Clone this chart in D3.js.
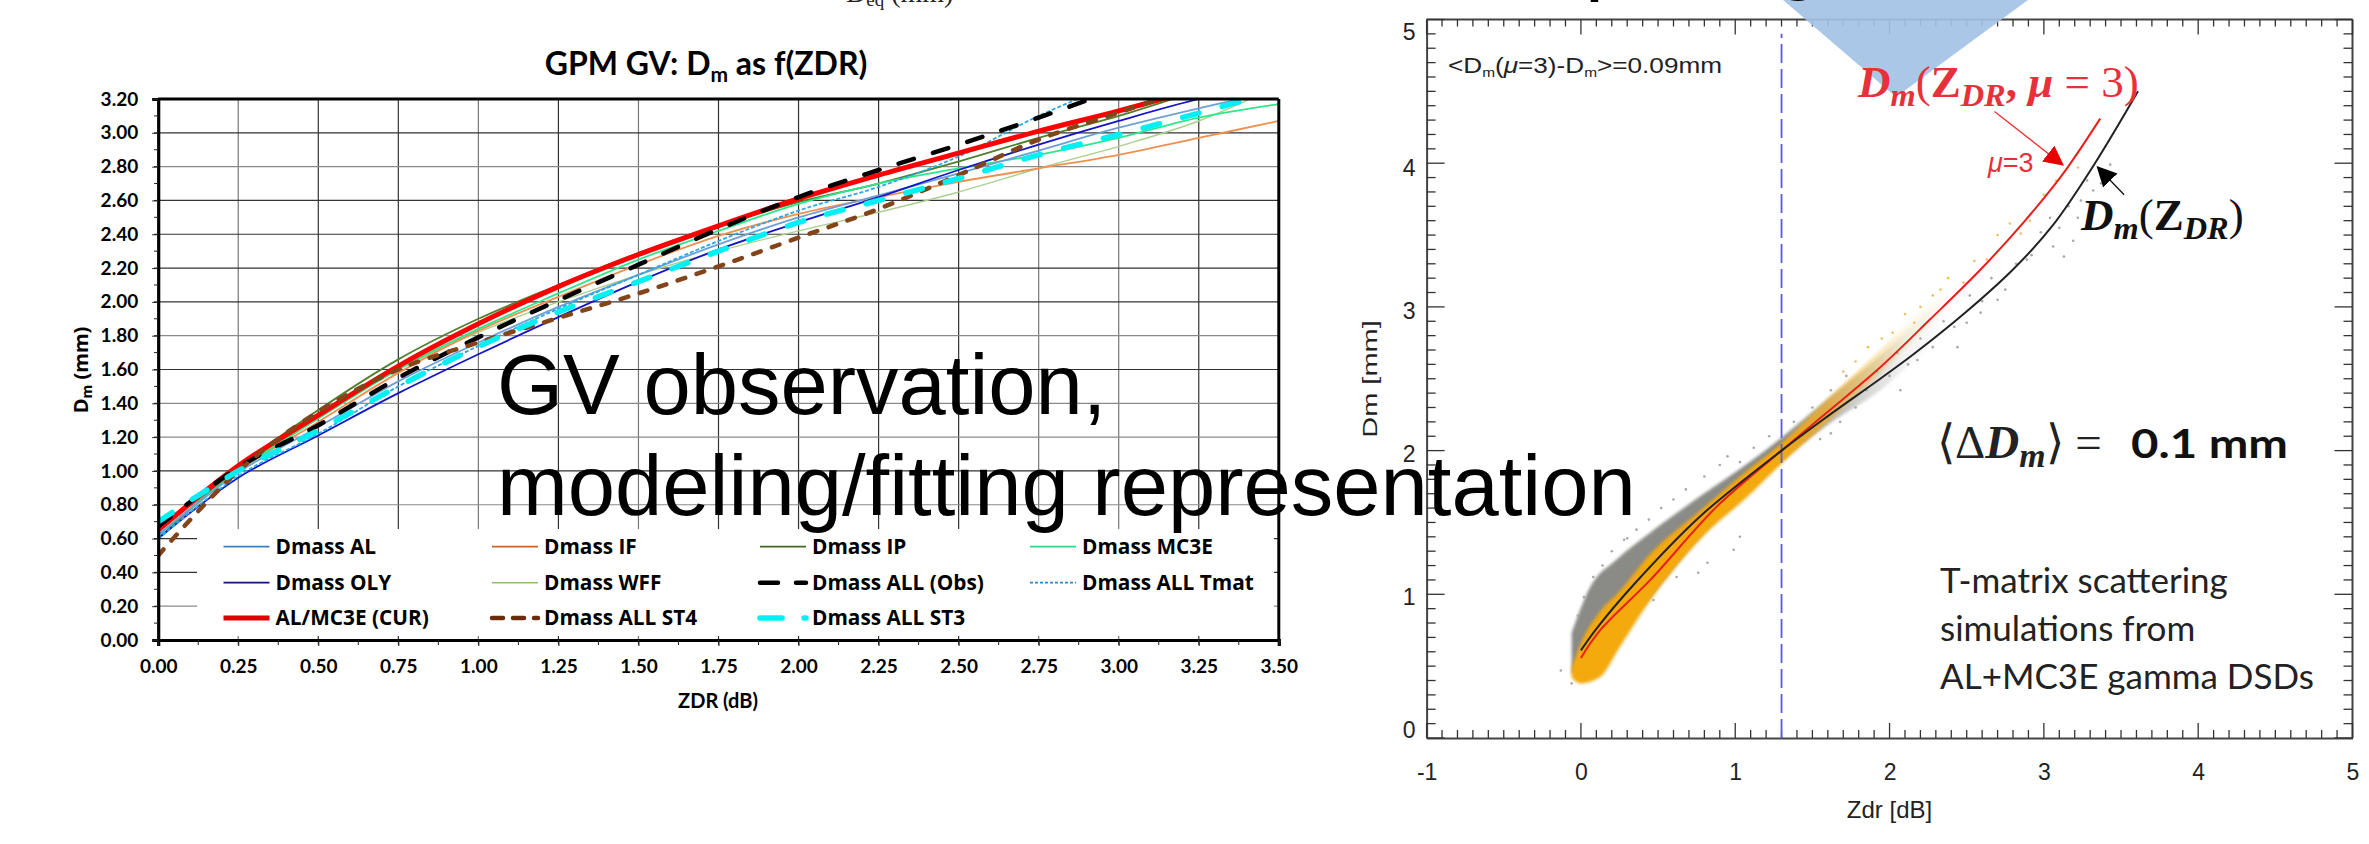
<!DOCTYPE html>
<html>
<head>
<meta charset="utf-8">
<script src="https://cdn.jsdelivr.net/npm/d3@7"></script>
<style>
html, body { margin: 0; padding: 0; background: #fff; }
svg { display: block; }
.cal { font-family: Lato, "Open Sans", sans-serif; }
.wide { font-family: "Open Sans", "Noto Sans", sans-serif; }
.arial { font-family: "Liberation Sans", Arial, sans-serif; }
.math { font-family: "Liberation Serif", serif; }
</style>
</head>
<body>
<svg id="chart" width="2369" height="844"></svg>
<script>
// left chart: grid stations along ZDR
const zdr = [0, 0.25, 0.5, 0.75, 1, 1.25, 1.5, 1.75, 2, 2.25, 2.5, 2.75, 3, 3.25, 3.5];
const xTicks = [0, 0.25, 0.5, 0.75, 1, 1.25, 1.5, 1.75, 2, 2.25, 2.5, 2.75, 3, 3.25, 3.5];
const yTicks = [0, 0.2, 0.4, 0.6, 0.8, 1, 1.2, 1.4, 1.6, 1.8, 2, 2.2, 2.4, 2.6, 2.8, 3, 3.2];
const xGridGray = [0.25, 1, 1.5, 2.75, 3];
const yGridGray = [0.2, 0.8, 1.2, 1.4, 1.8, 2.8];

// values, null past the top of the plot
const dmAL   = [0.62, 0.99, 1.26, 1.53, 1.76, 1.97, 2.16, 2.34, 2.50, 2.63, 2.76, 2.895, 3.03, 3.145, 3.25];
const dmIF   = [0.62, 1.00, 1.29, 1.58, 1.83, 2.03, 2.22, 2.39, 2.52, 2.62, 2.71, 2.79, 2.87, 2.97, 3.07];
const dmIP   = [0.60, 1.02, 1.36, 1.66, 1.90, 2.10, 2.29, 2.45, 2.59, 2.70, 2.83, 2.97, 3.10, 3.25, null];
const dmMC3E = [0.62, 1.00, 1.31, 1.60, 1.84, 2.05, 2.25, 2.42, 2.58, 2.70, 2.79, 2.87, 2.97, 3.09, 3.17];
const dmOLY  = [0.60, 0.96, 1.21, 1.46, 1.69, 1.91, 2.12, 2.31, 2.47, 2.62, 2.78, 2.93, 3.07, 3.20, 3.30];
const dmWFF  = [0.60, 1.00, 1.32, 1.60, 1.82, 2.00, 2.16, 2.30, 2.42, 2.53, 2.65, 2.79, 2.92, 3.07, 3.28];
const dmObs  = [0.67, 1.02, 1.27, 1.55, 1.79, 2.01, 2.22, 2.43, 2.62, 2.78, 2.93, 3.09, 3.26, null, null];
const dmTmat = [0.60, 0.97, 1.22, 1.50, 1.74, 1.96, 2.16, 2.36, 2.54, 2.68, 2.86, 3.10, 3.30, null, null];
const dmCUR  = [0.65, 1.03, 1.33, 1.62, 1.87, 2.09, 2.28, 2.45, 2.61, 2.75, 2.88, 3.01, 3.13, 3.26, null];
const dmST4  = [0.50, 1.00, 1.35, 1.60, 1.76, 1.905, 2.05, 2.21, 2.38, 2.55, 2.75, 2.96, 3.12, 3.28, null];
const dmST3  = [0.70, 1.00, 1.24, 1.50, 1.735, 1.94, 2.12, 2.30, 2.47, 2.60, 2.73, 2.87, 2.99, 3.117, 3.25];

const seriesNames = ["Dmass AL", "Dmass IF", "Dmass IP", "Dmass MC3E",
                     "Dmass OLY", "Dmass WFF", "Dmass ALL (Obs)", "Dmass ALL Tmat",
                     "AL/MC3E (CUR)", "Dmass ALL ST4", "Dmass ALL ST3"];
const seriesValues = [dmAL, dmIF, dmIP, dmMC3E, dmOLY, dmWFF, dmObs, dmTmat, dmCUR, dmST4, dmST3];
const seriesColors = ["#6f9fd6", "#f0904f", "#4f7f2f", "#2be88a", "#1515c8", "#a9d18e",
                      "#000000", "#2aa8e8", "#ff0000", "#84441a", "#00f0f4"];
const seriesWidths = [1.8, 1.8, 1.8, 1.8, 1.8, 1.4, 4.5, 1.8, 5, 4.5, 5.5];
const seriesDash   = [null, null, null, null, null, null, "16 20", "4 2", null, "8 12", "17 24"];
const drawOrder    = [5, 1, 2, 3, 0, 4, 7, 8, 6, 9, 10];

// legend swatches have their own colours and dashes
const legendColors = ["#3f7fbf", "#c8662a", "#3f6b22", "#2bd888", "#10107e", "#8fc070", "#000000", "#2e85c6", "#e00000", "#6b2c0c", "#00f0f4"];
const legendDash   = [null, null, null, null, null, null, "18 18", "3 2", null, "11 10", "22 22"];

// right chart curves
const zdrFit = [0, 0.1, 0.34, 0.77, 1.3, 1.6, 1.94, 2.155, 2.48, 2.8, 3.06, 3.32, 3.61];
const dmFit  = [0.61, 0.76, 1.065, 1.54, 2.00, 2.24, 2.50, 2.67, 2.95, 3.26, 3.57, 3.98, 4.50];
const zdrMu3 = [0, 0.125, 0.45, 0.88, 1.3, 1.6, 1.94, 2.26, 2.59, 2.87, 3.12, 3.365];
const dmMu3  = [0.557, 0.75, 1.10, 1.61, 2.00, 2.27, 2.58, 2.91, 3.26, 3.59, 3.92, 4.31];

// cloud outlines, read as upper and lower edge of the dense scatter
const grayX       = [-0.06, 0.06, 0.23, 0.45, 0.77, 1.08, 1.3, 1.6, 1.94, 2.26, 2.59];
const grayUpper   = [0.73, 1.05, 1.24, 1.43, 1.68, 1.91, 2.09, 2.36, 2.66, 2.98, 3.30];
const grayLower   = [0.45, 0.50, 0.70, 0.98, 1.40, 1.72, 1.93, 2.18, 2.42, 2.72, 3.00];
const orangeX     = [-0.06, 0, 0.125, 0.25, 0.45, 0.77, 1.1, 1.3, 1.6, 1.94, 2.26, 2.59];
const orangeUpper = [0.49, 0.66, 0.88, 1.02, 1.28, 1.58, 1.88, 2.05, 2.36, 2.70, 3.03, 3.36];
const orangeLower = [0.42, 0.38, 0.425, 0.63, 0.96, 1.38, 1.70, 1.91, 2.20, 2.54, 2.86, 3.18];

// single points around the clouds
const strayX = [-0.13, -0.06, 0.47, 0.62, 0.76, 0.82, 0.99, 1.03, 0.3, 0.95, 1.03, 2.07, 2.18, 2.44, 2.5, 2.59, 2.7, 2.89, 3.06, 3.13, 3.19, 3.24, 3.32, 3.37, 3.43,
    -0.02, 0.02, 0.08, 0.14, 0.2, 0.28, 0.36, 0.44, 0.52, 0.6, 0.68, 0.8, 0.9, 1.12, 1.22, 1.38, 1.5, 1.62, 1.72,
    1.85, 1.92, 2.0, 2.05, 2.12, 2.2, 2.28, 2.35, 2.42, 2.52, 2.6, 2.66, 2.75, 2.82, 2.92, 2.98, 3.04, 3.1, 3.16, 3.22, 3.28, 1.78, 1.68, 1.55, 1.62];
const strayY = [0.47, 0.38, 0.96, 1.12, 1.15, 1.22, 1.31, 1.40, 1.39, 1.96, 1.92, 2.42, 2.63, 2.72, 2.89, 2.96, 3.05, 3.33, 3.42, 3.35, 3.46, 3.74, 3.81, 3.86, 3.99,
    0.85, 0.98, 1.12, 1.2, 1.3, 1.38, 1.45, 1.52, 1.6, 1.66, 1.73, 1.82, 1.9, 2.02, 2.1, 2.2, 2.3, 2.42, 2.52,
    2.42, 2.55, 2.52, 2.68, 2.6, 2.78, 2.72, 2.9, 2.86, 3.08, 3.04, 3.2, 3.12, 3.3, 3.36, 3.52, 3.62, 3.55, 3.7, 3.62, 3.88, 2.3, 2.2, 2.08, 2.12];
const strayOrangeX = [3.22, 2.91, 2.85, 2.63, 2.48, 2.33, 2.16, 1.7, 1.78, 1.86, 1.95, 2.02, 2.1, 2.2, 2.28, 2.38, 2.55, 2.7, 2.78, 3.0, 3.08];
const strayOrangeY = [3.97, 3.60, 3.51, 3.33, 3.17, 3.12, 2.89, 2.55, 2.62, 2.72, 2.78, 2.82, 2.95, 3.0, 3.08, 3.2, 3.32, 3.5, 3.58, 3.78, 3.88];

const xMinor = d3.range(0, 3.5001, 0.125);
const yMinor = d3.range(0, 3.2001, 0.1);

const svg = d3.select("#chart");
const defs = svg.append("defs");

// ---- left chart ----
const x = d3.scaleLinear().domain([0, 3.5]).range([158.2, 1278.8]);
const y = d3.scaleLinear().domain([0, 3.2]).range([640, 99]);

const left = svg.append("g");

left.append("g").selectAll("line").data(xTicks.slice(1, -1)).enter().append("line")
    .attr("x1", d => x(d)).attr("x2", d => x(d))
    .attr("y1", y(3.2)).attr("y2", y(0))
    .attr("stroke", d => xGridGray.includes(d) ? "#777" : "#333").attr("stroke-width", 1.2);
left.append("g").selectAll("line").data(yTicks.slice(1, -1)).enter().append("line")
    .attr("x1", x(0)).attr("x2", x(3.5))
    .attr("y1", d => y(d)).attr("y2", d => y(d))
    .attr("stroke", d => yGridGray.includes(d) ? "#8a8a8a" : "#333").attr("stroke-width", 1.2);

// legend box hides the grid behind it
left.append("rect").attr("x", 197).attr("y", 529).attr("width", 1077).attr("height", 107).attr("fill", "#fff");

const line = d3.line()
    .defined(d => d[1] !== null)
    .x(d => x(d[0]))
    .y(d => y(d[1]))
    .curve(d3.curveCatmullRom);

defs.append("clipPath").attr("id", "clipLeft").append("rect")
    .attr("x", x(0)).attr("y", y(3.2)).attr("width", x(3.5) - x(0)).attr("height", y(0) - y(3.2));

left.append("g").attr("clip-path", "url(#clipLeft)").selectAll("path").data(drawOrder).enter().append("path")
    .attr("d", i => line(zdr.map((z, k) => [z, seriesValues[i][k]])))
    .attr("fill", "none")
    .attr("stroke", i => seriesColors[i])
    .attr("stroke-width", i => seriesWidths[i])
    .attr("stroke-linecap", i => seriesDash[i] && i != 7 ? "round" : "butt")
    .attr("stroke-dasharray", i => seriesDash[i]);

// axes
const xAxisL = d3.axisBottom(x).tickValues(xTicks).tickFormat(d3.format(".2f")).tickSize(6).tickPadding(14);
const yAxisL = d3.axisLeft(y).tickValues(yTicks).tickFormat(d3.format(".2f")).tickSize(6).tickPadding(14);

const gx = left.append("g").attr("transform", "translate(0,640)").call(xAxisL);
const gy = left.append("g").attr("transform", "translate(158.2,0)").call(yAxisL);
[gx, gy].forEach(g => {
    g.select(".domain").attr("stroke", "#000").attr("stroke-width", 3.2);
    g.selectAll("text").attr("class", "cal").attr("font-size", 19).attr("font-weight", 700).attr("fill", "#000");
    g.selectAll(".tick line").attr("stroke", "#222");
});
left.append("g").selectAll("line").data(xMinor).enter().append("line")
    .attr("x1", d => x(d)).attr("x2", d => x(d)).attr("y1", 640).attr("y2", 645).attr("stroke", "#222");
left.append("g").selectAll("line").data(yMinor).enter().append("line")
    .attr("x1", 154).attr("x2", 158).attr("y1", d => y(d)).attr("y2", d => y(d)).attr("stroke", "#222");
left.append("line").attr("x1", x(0)).attr("x2", x(3.5)).attr("y1", y(3.2)).attr("y2", y(3.2)).attr("stroke", "#000").attr("stroke-width", 3);
left.append("line").attr("x1", x(3.5)).attr("x2", x(3.5)).attr("y1", y(3.2)).attr("y2", y(0)).attr("stroke", "#000").attr("stroke-width", 3);

// title and axis titles
const title = left.append("text").attr("class", "cal").attr("x", 706).attr("y", 75)
    .attr("text-anchor", "middle").attr("font-size", 32).attr("font-weight", 700);
title.append("tspan").text("GPM GV: D");
title.append("tspan").attr("font-size", 21).attr("dy", 7).text("m");
title.append("tspan").attr("dy", -7).text(" as f(ZDR)");

left.append("text").attr("class", "cal").attr("x", 718).attr("y", 708)
    .attr("text-anchor", "middle").attr("font-size", 20).attr("font-weight", 700).text("ZDR (dB)");

const yt = left.append("text").attr("class", "wide").attr("transform", "translate(88,370) rotate(-90)")
    .attr("text-anchor", "middle").attr("font-size", 20).attr("font-weight", 700);
yt.append("tspan").text("D");
yt.append("tspan").attr("font-size", 14).attr("dy", 4).text("m");
yt.append("tspan").attr("dy", -4).text(" (mm)");

// legend
const legendCols = [223.5, 492, 760, 1030];
const legendY = [546.7, 582.7, 618];
const legendG = left.append("g").selectAll("g").data(seriesNames).enter().append("g")
    .attr("transform", (d, i) => "translate(" + legendCols[i % 4] + "," + legendY[Math.floor(i / 4)] + ")");
legendG.append("line").attr("x1", 0).attr("x2", 46).attr("y1", 0).attr("y2", 0)
    .attr("stroke", (d, i) => legendColors[i])
    .attr("stroke-width", (d, i) => seriesWidths[i])
    .attr("stroke-linecap", (d, i) => legendDash[i] && i != 7 ? "round" : "butt")
    .attr("stroke-dasharray", (d, i) => legendDash[i]);
legendG.append("text").attr("class", "wide").attr("x", 52).attr("y", 7)
    .attr("font-size", 20.8).attr("font-weight", 700).text(d => d);

// ---- right chart ----
const x2 = d3.scaleLinear().domain([-1, 5]).range([1426.6, 2352.5]);
const y2 = d3.scaleLinear().domain([0, 5]).range([738, 19.5]);
const right = svg.append("g");

defs.append("filter").attr("id", "soft").append("feGaussianBlur").attr("stdDeviation", 1.6);

// the scatter thins out with rising ZDR
const fadeFrom = 1.3, fadeTo = 2.4;
const fadeStops = [[1.3, 1], [1.75, 0.45], [2.1, 0.1], [2.4, 0]];
["fadeGray", "fadeOrange"].forEach((id, k) => {
    const grad = defs.append("linearGradient").attr("id", id).attr("gradientUnits", "userSpaceOnUse")
        .attr("x1", x2(fadeFrom)).attr("x2", x2(fadeTo)).attr("y1", 0).attr("y2", 0);
    fadeStops.forEach(s => grad.append("stop")
        .attr("offset", (s[0] - fadeFrom) / (fadeTo - fadeFrom))
        .attr("stop-color", k ? "#f4a90e" : "#8a8a86")
        .attr("stop-opacity", s[1]));
});

const bandArea = d3.area().x(d => x2(d[0])).y0(d => y2(d[1])).y1(d => y2(d[2])).curve(d3.curveMonotoneX);
right.append("path").attr("filter", "url(#soft)")
    .attr("d", bandArea(grayX.map((c, i) => [c, grayLower[i], grayUpper[i]])))
    .attr("fill", "url(#fadeGray)");
right.append("path").attr("filter", "url(#soft)")
    .attr("d", bandArea(orangeX.map((c, i) => [c, orangeLower[i], orangeUpper[i]])))
    .attr("fill", "url(#fadeOrange)");
right.append("g").selectAll("circle").data(strayX).enter().append("circle")
    .attr("cx", d => x2(d)).attr("cy", (d, i) => y2(strayY[i])).attr("r", 1.3).attr("fill", "#a8a8a8");
right.append("g").selectAll("circle").data(strayOrangeX).enter().append("circle")
    .attr("cx", d => x2(d)).attr("cy", (d, i) => y2(strayOrangeY[i])).attr("r", 1.3).attr("fill", "#f0c060");

const xSub = d3.range(-1, 5.0001, 0.1);
const ySub = d3.range(0, 5.0001, 0.1);
const yLabelShift = [-8, 3, 4, 4, 5, 13];
const xAxisB = d3.axisBottom(x2).tickValues(d3.range(-1, 6)).tickSize(0).tickPadding(26).tickFormat(d => String(d));
const yAxisR = d3.axisLeft(y2).tickValues(d3.range(0, 6)).tickSize(0).tickPadding(11).tickFormat(d => String(d));
const gxR = right.append("g").attr("transform", "translate(0,738)").call(xAxisB);
const gyR = right.append("g").attr("transform", "translate(1426.6,0)").call(yAxisR);
[gxR, gyR].forEach(g => {
    g.select(".domain").attr("stroke", "#444").attr("stroke-width", 2);
    g.selectAll("text").attr("class", "arial").attr("font-size", 23).attr("fill", "#222");
});
gyR.selectAll("text").attr("transform", (d, i) => "translate(0," + yLabelShift[i] + ")");

// top and right frame with mirrored ticks
right.append("line").attr("x1", x2(-1)).attr("x2", x2(5)).attr("y1", y2(5)).attr("y2", y2(5)).attr("stroke", "#444").attr("stroke-width", 2);
right.append("line").attr("x1", x2(5)).attr("x2", x2(5)).attr("y1", y2(5)).attr("y2", y2(0)).attr("stroke", "#444").attr("stroke-width", 2);
const tickG = right.append("g").attr("stroke", "#333").attr("stroke-width", 1.3);
xSub.forEach(v => {
    const big = Math.abs(v - Math.round(v)) < 1e-6;
    tickG.append("line").attr("x1", x2(v)).attr("x2", x2(v)).attr("y1", 738).attr("y2", big ? 723 : 730);
    tickG.append("line").attr("x1", x2(v)).attr("x2", x2(v)).attr("y1", y2(5)).attr("y2", y2(5) + (big ? 15 : 7));
});
ySub.forEach(v => {
    const big = Math.abs(v - Math.round(v)) < 1e-6;
    const len = big ? 18 : 9;
    tickG.append("line").attr("x1", x2(-1)).attr("x2", x2(-1) + len).attr("y1", y2(v)).attr("y2", y2(v));
    tickG.append("line").attr("x1", x2(5)).attr("x2", x2(5) - len).attr("y1", y2(v)).attr("y2", y2(v));
});

// dashed reference line
right.append("line").attr("x1", x2(1.3)).attr("x2", x2(1.3)).attr("y1", y2(0)).attr("y2", y2(4.9))
    .attr("stroke", "#5a5ae8").attr("stroke-width", 1.8).attr("stroke-dasharray", "19 6");

const fitLine = d3.line().x(d => x2(d[0])).y(d => y2(d[1])).curve(d3.curveCatmullRom);
right.append("path").attr("d", fitLine(zdrMu3.map((z, i) => [z, dmMu3[i]])))
    .attr("fill", "none").attr("stroke", "#e8201c").attr("stroke-width", 2);
right.append("path").attr("d", fitLine(zdrFit.map((z, i) => [z, dmFit[i]])))
    .attr("fill", "none").attr("stroke", "#222").attr("stroke-width", 2);

// blue arrow shape sits over the frame, its ticks show through
const arrowShape = [[1783, 0], [2028, 0], [1896, 97]];
right.append("path").attr("d", d3.line()(arrowShape) + "Z").attr("fill", "#a4c2e6").attr("fill-opacity", 0.92);

// annotations
const note = right.append("text").attr("class", "arial").attr("x", 1448).attr("y", 73)
    .attr("font-size", 22).attr("fill", "#222").attr("textLength", 274).attr("lengthAdjust", "spacingAndGlyphs");
note.append("tspan").text("<D");
note.append("tspan").attr("font-size", 13).attr("dy", 4).text("m");
note.append("tspan").attr("dy", -4).text("(");
note.append("tspan").attr("font-style", "italic").text("\u03bc");
note.append("tspan").text("=3)-D");
note.append("tspan").attr("font-size", 13).attr("dy", 4).text("m");
note.append("tspan").attr("dy", -4).text(">=0.09mm");

// math labels, built piece by piece: [text, subscript, italic, bold]
function mathLabel(xPos, yPos, size, color, pieces) {
    const t = right.append("text").attr("class", "math").attr("x", xPos).attr("y", yPos)
        .attr("font-size", size).attr("fill", color);
    let last = 0;
    pieces.forEach(p => {
        const shift = p[1] ? size * 0.2 : 0;
        t.append("tspan").attr("dy", shift - last)
            .attr("font-size", p[1] ? size * 0.72 : size)
            .attr("font-style", p[2] ? "italic" : "normal")
            .attr("font-weight", p[3] ? 700 : 400)
            .text(p[0]);
        last = shift;
    });
}
mathLabel(1858, 97, 45, "#e8303a", [["D", 0, 1, 1], ["m", 1, 1, 1], ["(", 0, 0, 0], ["Z", 0, 0, 1], ["DR", 1, 1, 1],
    [", ", 0, 0, 1], ["\u03bc", 0, 1, 1], [" = 3", 0, 0, 0], [")", 0, 0, 0]]);
mathLabel(2081, 230, 45, "#111", [["D", 0, 1, 1], ["m", 1, 1, 1], ["(", 0, 0, 0], ["Z", 0, 0, 1], ["DR", 1, 1, 1], [")", 0, 0, 0]]);
mathLabel(1937, 458, 47, "#222", [["\u27e8\u0394", 0, 0, 0], ["D", 0, 1, 1], ["m", 1, 1, 1], ["\u27e9 =", 0, 0, 0]]);

right.append("text").attr("class", "cal").attr("x", 2131).attr("y", 458).attr("font-size", 40).attr("font-weight", 700).attr("fill", "#111")
    .attr("textLength", 157).attr("lengthAdjust", "spacingAndGlyphs").text("0.1 mm");

right.append("text").attr("class", "arial").attr("x", 1988).attr("y", 172).attr("font-size", 27).attr("fill", "#e8303a")
    .call(t => { t.append("tspan").attr("font-style", "italic").text("\u03bc"); t.append("tspan").text("=3"); });

[["#e80000", "arrowRed"], ["#000", "arrowBlack"]].forEach(a => {
    defs.append("marker").attr("id", a[1]).attr("viewBox", "0 0 10 10").attr("refX", 9).attr("refY", 5)
        .attr("markerWidth", 20).attr("markerHeight", 20).attr("markerUnits", "userSpaceOnUse").attr("orient", "auto")
        .append("path").attr("d", "M0,0L10,5L0,10Z").attr("fill", a[0]);
});
right.append("line").attr("x1", x2(2.68)).attr("y1", y2(4.36)).attr("x2", x2(3.12)).attr("y2", y2(3.99))
    .attr("stroke", "#e8303a").attr("stroke-width", 1.3).attr("marker-end", "url(#arrowRed)");
right.append("line").attr("x1", x2(3.52)).attr("y1", y2(3.78)).attr("x2", x2(3.35)).attr("y2", y2(3.97))
    .attr("stroke", "#111").attr("stroke-width", 1.3).attr("marker-end", "url(#arrowBlack)");

const tm = ["T-matrix scattering", "simulations from", "AL+MC3E gamma DSDs"];
right.append("g").selectAll("text").data(tm).enter().append("text").attr("class", "cal")
    .attr("x", 1940).attr("y", (d, i) => 593 + i * 48).attr("font-size", 35).attr("fill", "#222").text(d => d);

right.append("text").attr("class", "arial").attr("x", x2(2)).attr("y", 818).attr("text-anchor", "middle").attr("font-size", 24).attr("fill", "#222").text("Zdr [dB]");
right.append("text").attr("class", "arial").attr("transform", "translate(1377,379) rotate(-90) scale(1.45,1)").attr("text-anchor", "middle").attr("font-size", 20).attr("fill", "#222").text("Dm [mm]");

// clipped leftovers along the top edge of the picture
const eq = svg.append("text").attr("class", "math").attr("x", 846).attr("y", 2).attr("font-size", 28).attr("fill", "#222");
eq.append("tspan").text("D");
eq.append("tspan").attr("font-size", 19).attr("dy", 4).text("eq");
eq.append("tspan").attr("dy", -4).text(" (mm)");
svg.append("text").attr("class", "arial").attr("x", 1585).attr("y", -16).attr("font-size", 85).text("p");
svg.append("text").attr("class", "arial").attr("x", 1775).attr("y", -17).attr("font-size", 85).text("g");

// big overlay text
const big = svg.append("g").attr("class", "arial").attr("font-size", 85).attr("fill", "#000");
big.append("text").attr("x", 497).attr("y", 414).text("GV observation,");
big.append("text").attr("x", 497).attr("y", 515).text("modeling/fitting representation");
</script>
</body>
</html>
